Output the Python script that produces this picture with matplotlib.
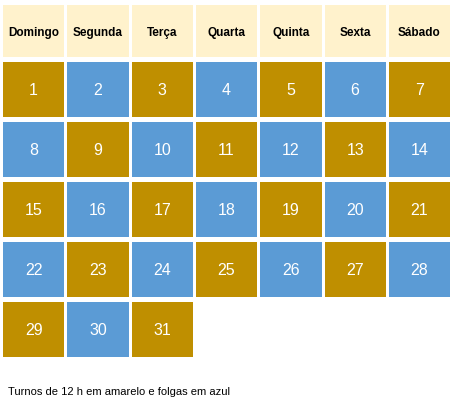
import matplotlib.pyplot as plt
from matplotlib.patches import Rectangle

# ===== data =====
weekdays = ["Domingo", "Segunda", "Terça", "Quarta", "Quinta", "Sexta", "Sábado"]
days = list(range(1, 32))
# 1 = turno de 12 h (amarelo), 0 = folga (azul)
shifts = [1, 0, 1, 0, 1, 0, 1,
          0, 1, 0, 1, 0, 1, 0,
          1, 0, 1, 0, 1, 0, 1,
          0, 1, 0, 1, 0, 1, 0,
          1, 0, 1]
caption = "Turnos de 12 h em amarelo e folgas em azul"

gold = "#BF8F00"
blue = "#5B9BD5"
header_bg = "#FFF2CC"

W, H = 458, 409
fig = plt.figure(figsize=(W / 100, H / 100), dpi=100)
ax = fig.add_axes([0, 0, 1, 1])
ax.set_xlim(0, W)
ax.set_ylim(H, 0)
ax.axis("off")

x0, cw, gap = 3, 64.3, 3
hy0, hh = 5, 52
ry0, rh = 62, 60

for i, name in enumerate(weekdays):
    x = x0 + i * cw
    ax.add_patch(Rectangle((x, hy0), cw - gap, hh, color=header_bg, lw=0))
    ax.text(x + (cw - gap) / 2, hy0 + hh / 2 + 2, name, ha="center", va="center",
            fontsize=8.5, fontweight="bold", family="Liberation Sans")

for d, s in zip(days, shifts):
    col = (d - 1) % 7
    row = (d - 1) // 7
    x = x0 + col * cw
    y = ry0 + row * rh
    ax.add_patch(Rectangle((x, y), cw - gap, rh - 5, color=gold if s else blue, lw=0))
    ax.text(x + (cw - gap) / 2, y + (rh - 5) / 2 + 1, str(d), ha="center", va="center",
            fontsize=11.5, color="white", family="Liberation Sans")

ax.text(8, 392, caption, ha="left", va="center", fontsize=8, family="Liberation Sans")

fig.savefig("out.png", dpi=100, facecolor="white")
